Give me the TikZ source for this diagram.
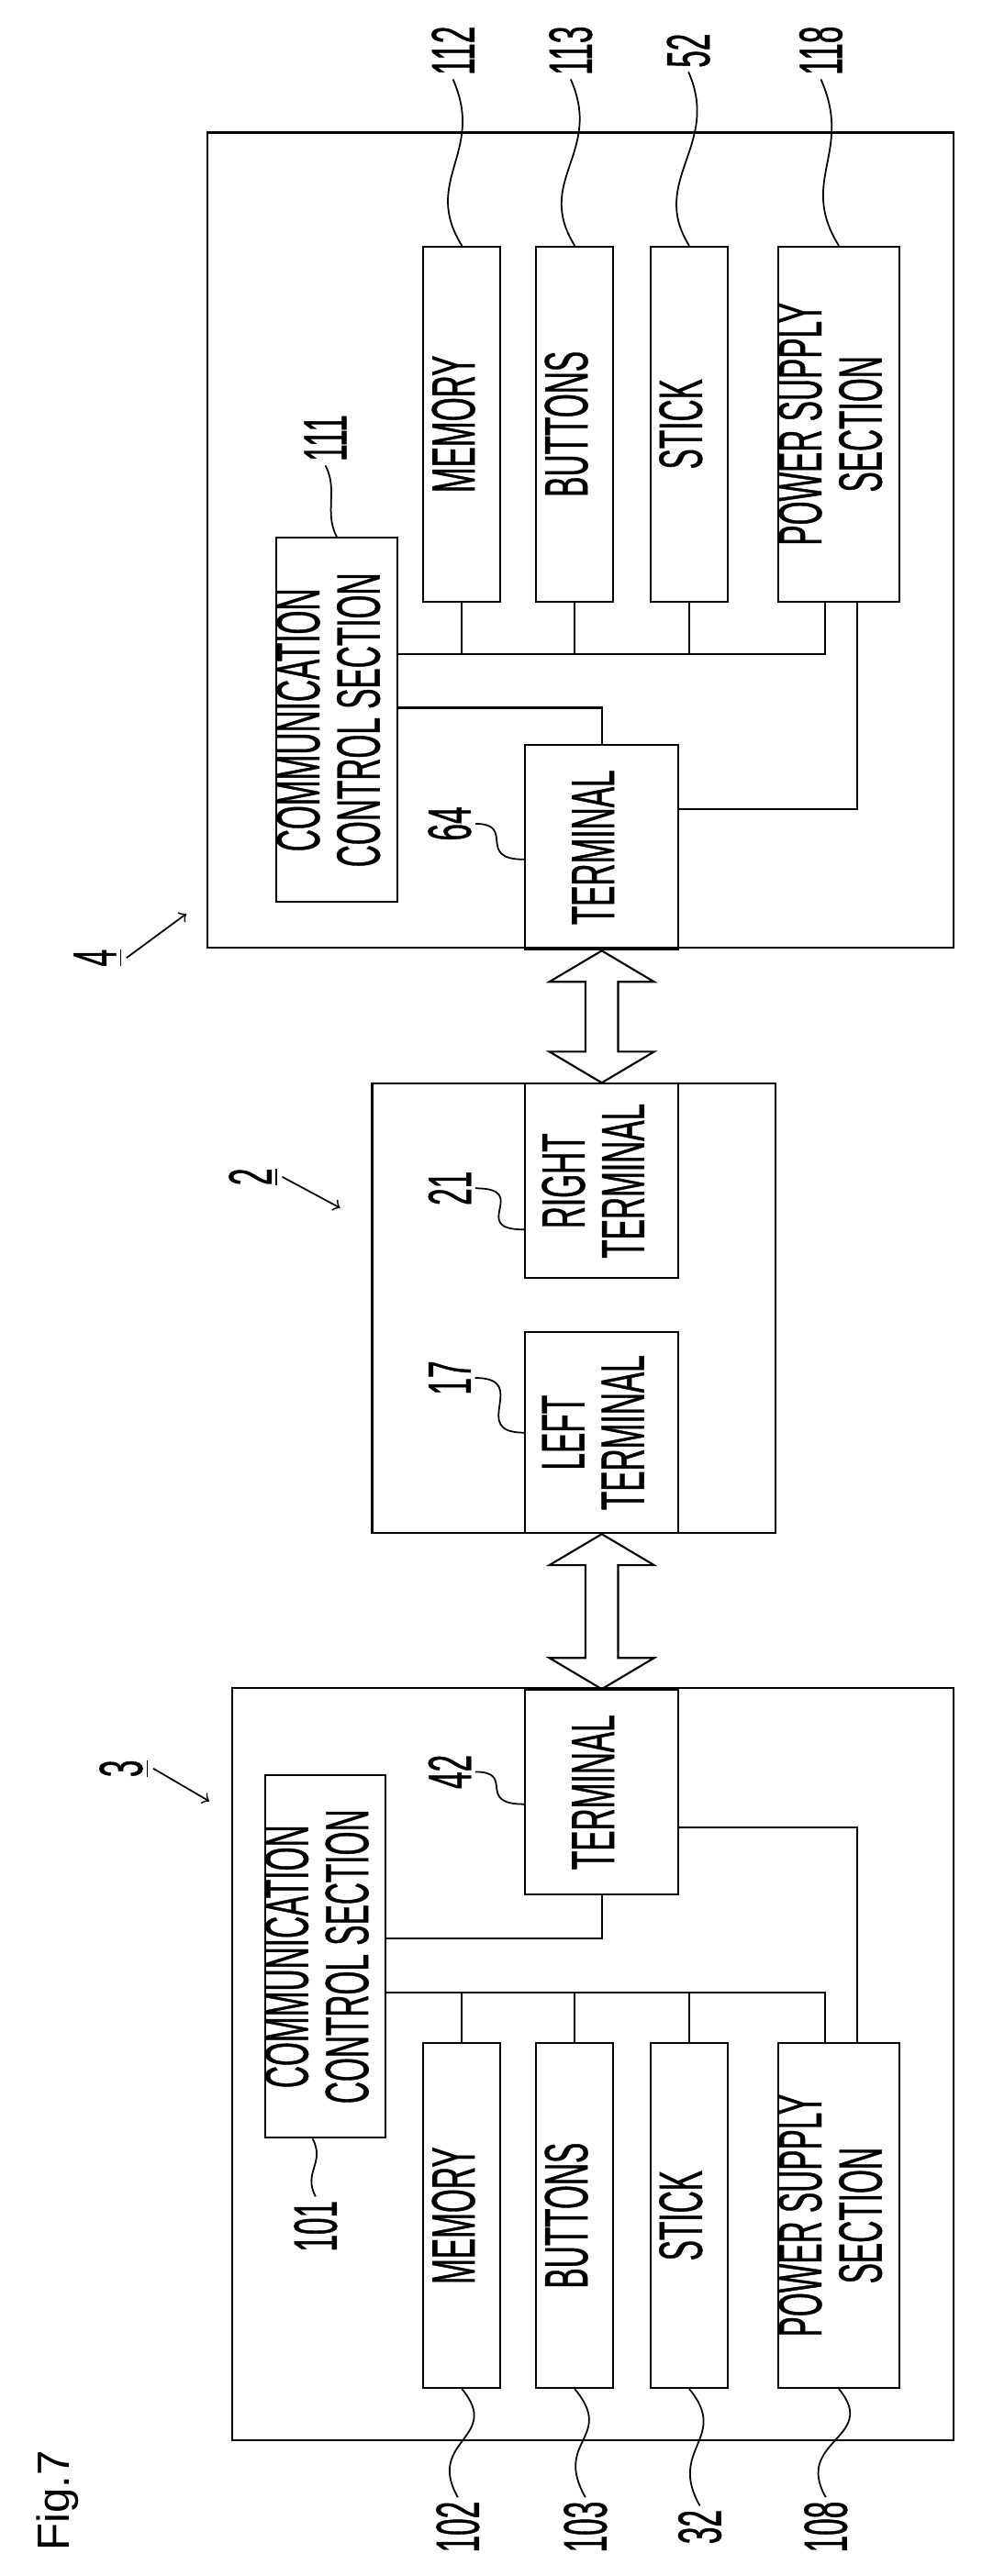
\documentclass[tikz,border=0pt]{standalone}
\usepackage{fontspec}
\newfontfamily\pfont[FakeStretch=0.5,FakeBold=0.6]{Liberation Sans}
\newfontfamily\ffont{Liberation Sans}
\usetikzlibrary{calc}
\newcommand{\vtext}[1]{\rotatebox{90}{\renewcommand{\arraystretch}{0.82}\begin{tabular}{@{}c@{}}#1\end{tabular}}}
\begin{document}
\begin{tikzpicture}[x=0.01782cm,y=-0.01782cm,line width=0.6pt,
    blk/.style={draw,inner sep=0pt,font=\pfont\fontsize{19}{22}\selectfont},
    num/.style={rotate=90,inner sep=1pt,font=\pfont\fontsize{19}{22}\selectfont},
    lead/.style={line width=0.5pt}]
\useasboundingbox (0,0) rectangle (600,1576);

% housings
\node[draw,minimum width=8.13cm,minimum height=8.89cm] (b4) at (355,330.5) {};
\node[draw,minimum width=4.40cm,minimum height=4.90cm] (b2) at (351,800.5) {};
\node[draw,minimum width=7.86cm,minimum height=8.20cm] (b3) at (362.5,1263) {};

% right controller
\node[blk,minimum width=1.21cm,minimum height=3.97cm] (c111) at (206,440.5) {\vtext{COMMUNICATION\\CONTROL SECTION}};
\node[blk,minimum width=0.84cm,minimum height=3.87cm] (m112) at (282.5,259.5) {\vtext{MEMORY}};
\node[blk,minimum width=0.84cm,minimum height=3.87cm] (b113) at (351.5,259.5) {\vtext{BUTTONS}};
\node[blk,minimum width=0.84cm,minimum height=3.87cm] (s52) at (421.5,259.5) {\vtext{STICK}};
\node[blk,minimum width=1.18cm,minimum height=3.87cm] (p118) at (513,259.5) {\vtext{POWER SUPPLY\\SECTION}};
\node[blk,minimum width=1.67cm,minimum height=2.23cm] (t64) at (368,518.5) {\vtext{TERMINAL}};

% main body
\node[blk,minimum width=1.67cm,minimum height=2.12cm] (r21) at (368,722.5) {\vtext{RIGHT\\TERMINAL}};
\node[blk,minimum width=1.67cm,minimum height=2.19cm] (lt17) at (368,876.5) {\vtext{LEFT\\TERMINAL}};

% left controller
\node[blk,minimum width=1.24cm,minimum height=3.95cm] (c101) at (199,1197) {\vtext{COMMUNICATION\\CONTROL SECTION}};
\node[blk,minimum width=0.84cm,minimum height=3.76cm] (m102) at (282.5,1355.5) {\vtext{MEMORY}};
\node[blk,minimum width=0.84cm,minimum height=3.76cm] (b103) at (351.5,1355.5) {\vtext{BUTTONS}};
\node[blk,minimum width=0.84cm,minimum height=3.76cm] (s32) at (421.5,1355.5) {\vtext{STICK}};
\node[blk,minimum width=1.18cm,minimum height=3.76cm] (p108) at (513,1355.5) {\vtext{POWER SUPPLY\\SECTION}};
\node[blk,minimum width=1.67cm,minimum height=2.23cm] (t42) at (368,1096.5) {\vtext{TERMINAL}};

% wiring
\coordinate (bus4) at (0,400);
\coordinate (lnk4) at (0,433);
\coordinate (pw4) at (0,495);
\draw (c111.east |- bus4) -| ([xshift=-0.15cm]p118.south);
\foreach \n in {m112,b113,s52} \draw (\n.south) -- (\n.south |- bus4);
\draw (c111.east |- lnk4) -| (t64.north);
\draw ([xshift=0.2cm]p118.south) |- (t64.east |- pw4);

\coordinate (bus3) at (0,1219);
\coordinate (lnk3) at (0,1186);
\coordinate (pw3) at (0,1118);
\draw (c101.east |- bus3) -| ([xshift=-0.15cm]p108.north);
\foreach \n in {m102,b103,s32} \draw (\n.north) -- (\n.north |- bus3);
\draw (c101.east |- lnk3) -| (t42.south);
\draw ([xshift=0.2cm]p108.north) |- (t42.east |- pw3);

% double arrows
\foreach \a/\b in {t64/r21,lt17/t42}
  \draw (\a.south) -- ++(-32,19) -- ++(22,0) -- ($(\b.north)+(-10,-19)$)
    -- ++(-22,0) -- (\b.north) -- ++(32,-19) -- ++(-22,0)
    -- ($(\a.south)+(10,19)$) -- ++(22,0) -- cycle;

% reference numerals
\node[num] (l112) at (277,31) {112};
\node[num] (l113) at (349,31) {113};
\node[num] (l52) at (421,31) {52};
\node[num] (l118) at (502,31) {118};
\node[num] (l111) at (199,268) {111};
\node[num] (l64) at (275,504) {64};
\node[num] (l21) at (275,727) {21};
\node[num] (l17) at (275,843) {17};
\node[num] (l42) at (275,1084) {42};
\node[num] (l101) at (193,1362) {101};
\node[num] (l102) at (280,1546) {102};
\node[num] (l103) at (358,1546) {103};
\node[num] (l32) at (428,1546) {32};
\node[num] (l108) at (505,1546) {108};
\node[num] (n4) at (60,586) {\underline{4}};
\node[num] (n2) at (155,720) {\underline{2}};
\node[num] (n3) at (76,1082) {\underline{3}};
\node[rotate=90,font=\ffont\fontsize{14}{16}\selectfont] (fig) at (35,1530) {Fig.7};
\coordinate (a4) at (114,559);
\coordinate (a2) at (208,739);
\coordinate (a3) at (128,1102);

% leaders
\foreach \n/\l in {m112/l112,b113/l113,s52/l52,p118/l118}
  \draw[lead] (\l.west) .. controls +(20,45) and +(-25,-40) .. (\n.north);
\draw[lead] (l111.west) .. controls +(8,15) and +(-8,-15) .. (c111.north);
\draw[lead] (l64.south) .. controls +(25,0) and +(-30,0) .. ([yshift=-0.13cm]t64.west);
\draw[lead] (l21.south) .. controls +(35,0) and +(-35,0) .. ([yshift=-0.53cm]r21.west);
\draw[lead] (l17.south) .. controls +(35,0) and +(-35,0) .. (lt17.west);
\draw[lead] (l42.south) .. controls +(25,0) and +(-30,0) .. ([yshift=-0.13cm]t42.west);
\draw[lead] (l101.east) .. controls +(-8,-15) and +(8,15) .. ([xshift=-0.14cm]c101.south);
\foreach \n/\l in {m102/l102,b103/l103,s32/l32,p108/l108}
  \draw[lead] (\n.south) .. controls +(25,30) and +(-20,-35) .. (\l.east);
\draw[->,lead] (n4.south) -- (a4);
\draw[->,lead] (n2.south) -- (a2);
\draw[->,lead] (n3.south) -- (a3);
\end{tikzpicture}
\end{document}
